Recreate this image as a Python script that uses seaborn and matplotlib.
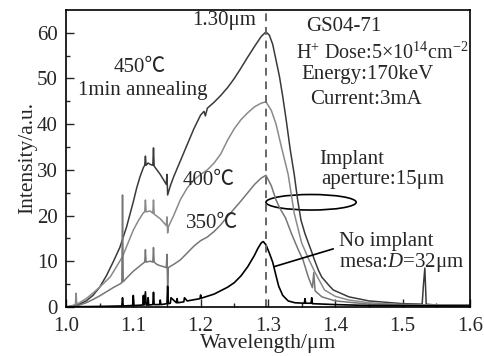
import matplotlib
matplotlib.use("Agg")
import matplotlib.pyplot as plt
from matplotlib.patches import Ellipse
import seaborn as sns

# ---- data ----
wl_450 = [1.00, 1.01, 1.02, 1.03, 1.04, 1.05, 1.06, 1.07, 1.08, 1.09, 1.10, 1.105, 1.11, 1.115,
          1.117, 1.118, 1.119, 1.122, 1.125, 1.129, 1.130, 1.131, 1.135, 1.14, 1.145, 1.149,
          1.150, 1.151, 1.155, 1.16, 1.17, 1.18, 1.19, 1.20, 1.205, 1.207, 1.21, 1.22, 1.23,
          1.24, 1.25, 1.26, 1.27, 1.28, 1.29, 1.297, 1.302, 1.307, 1.312, 1.317, 1.322, 1.327,
          1.333, 1.339, 1.344, 1.349, 1.355, 1.36, 1.365, 1.369, 1.375, 1.38, 1.39, 1.397, 1.42,
          1.45, 1.50, 1.529, 1.531, 1.533, 1.535, 1.55, 1.60]
int_450 = [0.0, 0.2, 0.6, 1.3, 2.5, 4.3, 6.8, 9.8, 13.0, 17.5, 23.0, 26.0, 28.5, 30.5,
           31.0, 33.0, 31.0, 31.5, 31.2, 31.0, 34.8, 30.8, 30.0, 29.0, 27.8, 26.8,
           29.0, 24.5, 26.5, 28.5, 32.0, 35.5, 39.0, 42.0, 42.8, 41.8, 43.5, 44.8, 46.3,
           48.0, 50.0, 52.3, 54.7, 57.0, 59.2, 60.2, 59.5, 57.5, 54.0, 50.5, 46.0, 41.0,
           34.5, 29.0, 23.5, 19.0, 16.0, 14.0, 12.0, 10.3, 8.0, 6.5, 4.8, 3.7, 2.2,
           1.3, 0.7, 0.6, 5.0, 8.5, 0.6, 0.4, 0.4]

wl_400 = [1.00, 1.01, 1.014, 1.015, 1.016, 1.02, 1.03, 1.04, 1.05, 1.066, 1.075, 1.084, 1.09,
          1.10, 1.108, 1.115, 1.117, 1.118, 1.119, 1.125, 1.129, 1.130, 1.131, 1.14, 1.149,
          1.150, 1.151, 1.152, 1.16, 1.17, 1.18, 1.19, 1.20, 1.21, 1.22, 1.23, 1.24, 1.25,
          1.26, 1.27, 1.28, 1.29, 1.297, 1.305, 1.312, 1.32, 1.33, 1.339, 1.35, 1.361, 1.37,
          1.384, 1.40, 1.42, 1.45, 1.50, 1.60]
int_400 = [0.0, 0.3, 0.5, 3.0, 0.6, 0.9, 1.8, 3.0, 4.3, 6.6, 8.8, 11.0, 13.2,
           16.8, 19.0, 20.6, 20.8, 23.4, 20.8, 21.0, 20.5, 23.4, 20.3, 19.3, 17.8,
           19.7, 16.2, 17.5, 20.0, 23.5, 26.0, 27.8, 29.0, 30.0, 31.5, 33.5, 36.5, 39.0,
           41.0, 42.5, 43.8, 44.6, 44.9, 43.0, 40.0, 35.0, 29.0, 20.5, 14.0, 10.3, 7.5,
           3.7, 2.3, 1.5, 0.9, 0.5, 0.3]

wl_350 = [1.00, 1.01, 1.02, 1.03, 1.04, 1.05, 1.06, 1.07, 1.08, 1.083, 1.084, 1.085, 1.09,
          1.10, 1.11, 1.115, 1.117, 1.118, 1.119, 1.125, 1.129, 1.130, 1.131, 1.135, 1.14,
          1.145, 1.149, 1.150, 1.151, 1.152, 1.16, 1.17, 1.18, 1.19, 1.20, 1.21, 1.22, 1.23,
          1.24, 1.25, 1.26, 1.27, 1.28, 1.29, 1.297, 1.305, 1.312, 1.318, 1.326, 1.335, 1.345,
          1.352, 1.36, 1.366, 1.368, 1.37, 1.38, 1.40, 1.45, 1.50, 1.60]
int_350 = [0.0, 0.1, 0.4, 0.9, 1.6, 2.4, 3.3, 4.2, 5.0, 5.3, 24.5, 5.5, 6.3,
           7.8, 9.0, 9.6, 9.8, 12.5, 9.8, 10.0, 9.8, 13.0, 9.8, 9.3, 9.0,
           8.8, 8.6, 11.5, 4.5, 8.6, 9.3, 10.3, 11.8, 13.3, 14.5, 15.3, 16.5, 18.0,
           19.8, 21.5, 23.2, 25.0, 26.8, 28.2, 28.8, 26.5, 23.4, 21.5, 19.5, 16.0, 12.5,
           10.3, 6.5, 4.2, 7.5, 3.5, 2.2, 1.3, 0.6, 0.4, 0.2]

wl_none = [1.00, 1.05, 1.083, 1.084, 1.085, 1.099, 1.10, 1.101, 1.114, 1.115, 1.116, 1.118,
           1.119, 1.121, 1.122, 1.123, 1.129, 1.130, 1.131, 1.139, 1.14, 1.141, 1.150, 1.151,
           1.152, 1.155, 1.156, 1.164, 1.165, 1.166, 1.175, 1.176, 1.18, 1.199, 1.20, 1.201,
           1.22, 1.24, 1.25, 1.26, 1.27, 1.28, 1.285, 1.29, 1.293, 1.297, 1.302, 1.307, 1.312,
           1.316, 1.322, 1.33, 1.34, 1.354, 1.355, 1.356, 1.364, 1.365, 1.366, 1.40, 1.45, 1.60]
int_none = [0.0, 0.1, 0.2, 2.0, 0.2, 0.3, 2.5, 0.3, 0.4, 2.5, 0.4, 3.3,
            0.4, 0.4, 2.0, 0.4, 0.5, 3.2, 0.5, 0.5, 1.5, 0.5, 0.7, 4.5,
            0.7, 0.8, 2.0, 0.9, 1.8, 0.9, 1.1, 2.0, 1.3, 1.8, 2.6, 1.9,
            2.8, 4.3, 5.3, 6.8, 8.8, 11.3, 12.8, 14.0, 14.3, 13.6, 11.8, 9.8, 6.8,
            4.5, 2.5, 1.3, 0.9, 0.8, 1.8, 0.8, 0.8, 2.0, 0.7, 0.5, 0.3, 0.2]

peak_wl = 1.297

sns.set_style("ticks")
plt.rcParams['font.family'] = ['Liberation Serif', 'Noto Sans CJK SC']
plt.rcParams['mathtext.fontset'] = 'custom'
plt.rcParams['mathtext.rm'] = 'Liberation Serif'
plt.rcParams['mathtext.it'] = 'Liberation Serif:italic'

FS = 15

fig = plt.figure(figsize=(4.85, 3.56), dpi=100)
ax = fig.add_axes([0.136, 0.138, 0.833, 0.834])

sns.lineplot(x=wl_450, y=int_450, ax=ax, color="#3a3a3a", lw=1.1, estimator=None)
sns.lineplot(x=wl_400, y=int_400, ax=ax, color="#8a8a8a", lw=1.1, estimator=None)
sns.lineplot(x=wl_350, y=int_350, ax=ax, color="#767676", lw=1.1, estimator=None)
sns.lineplot(x=wl_none, y=int_none, ax=ax, color="#000000", lw=1.2, estimator=None)

ax.axvline(peak_wl, color="#666666", lw=1.4, ls=(0, (4, 3)))

ax.set_xlim(1.0, 1.6)
ax.set_ylim(0, 65)
ax.set_xticks([1.0, 1.1, 1.2, 1.3, 1.4, 1.5, 1.6])
ax.set_xticks([1.05, 1.15, 1.25, 1.35, 1.45, 1.55], minor=True)
ax.set_yticks([0, 10, 20, 30, 40, 50, 60])
ax.set_yticks([5, 15, 25, 35, 45, 55], minor=True)
ax.set_xticklabels(["1.0", "1.1", "1.2", "1.3", "1.4", "1.5", "1.6"])
ax.tick_params(which="major", direction="in", length=6, width=1, labelsize=FS)
ax.tick_params(axis="x", which="major", pad=7)
ax.tick_params(axis="y", which="major", pad=6)
ax.tick_params(which="minor", direction="in", length=3, width=1)
for s in ax.spines.values():
    s.set_linewidth(1.2)
    s.set_color("black")

ax.set_xlabel("Wavelength/μm", fontsize=FS + 0.5, labelpad=-1)
ax.set_ylabel("Intensity/a.u.", fontsize=FS + 0.5, labelpad=0)

# annotations
ax.text(1.283, 62.6, "1.30μm", ha="right", va="center", fontsize=FS)
ax.text(1.357, 61.3, "GS04-71", ha="left", va="center", fontsize=FS)
ax.text(1.341, 55.6, r"H$^{+}$ Dose:5$\times$10$^{14}$cm$^{-2}$", ha="left", va="center", fontsize=14.5)
ax.text(1.349, 50.8, "Energy:170keV", ha="left", va="center", fontsize=FS)
ax.text(1.363, 45.4, "Current:3mA", ha="left", va="center", fontsize=FS)
ax.text(1.110, 52.3, "450℃", ha="center", va="center", fontsize=FS)
ax.text(1.114, 47.4, "1min annealing", ha="center", va="center", fontsize=FS)
ax.text(1.173, 27.6, "400℃", ha="left", va="center", fontsize=FS)
ax.text(1.178, 18.2, "350℃", ha="left", va="center", fontsize=FS)
ax.text(1.376, 32.2, "Implant", ha="left", va="center", fontsize=FS)
ax.text(1.379, 27.8, "aperture:15μm", ha="left", va="center", fontsize=FS)
ax.text(1.406, 14.4, "No implant", ha="left", va="center", fontsize=FS)
ax.text(1.406, 9.8, r"mesa:$D$=32μm", ha="left", va="center", fontsize=FS)

ax.add_patch(Ellipse((1.364, 22.9), 0.134, 3.4, fill=False, ec="black", lw=1.2))
ax.plot([1.309, 1.397], [8.8, 12.7], color="black", lw=1.2)

fig.savefig("out.png", dpi=100)
